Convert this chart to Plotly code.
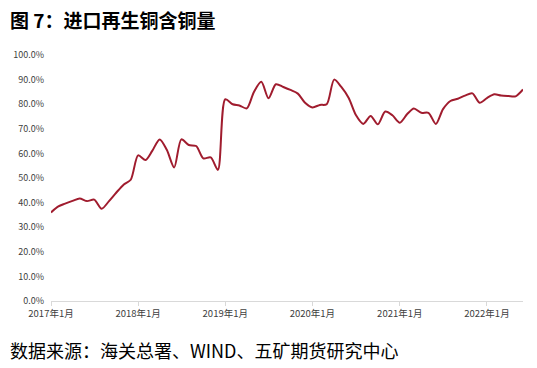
import plotly.graph_objects as go

months = [f"{y}-{m:02d}-01" for y in range(2017, 2023) for m in range(1, 13)][:66]
values = [36.0, 38.5, 39.6, 40.7, 41.7, 40.6, 41.2, 37.5, 40.6, 44.0, 47.3, 49.3,
          59.2, 57.3, 61.0, 65.7, 61.5, 54.3, 65.7, 63.4, 63.0, 58.0, 58.4, 53.3,
          82.0, 80.0, 79.5, 78.3, 85.0, 89.1, 82.4, 88.1, 87.0, 85.8, 84.3, 80.6,
          78.7, 79.7, 80.0, 90.0, 87.0, 82.5, 75.6, 72.0, 75.2, 71.8, 77.0, 75.5,
          72.5, 76.0, 78.3, 76.5, 76.5, 72.0, 78.0, 81.3, 82.2, 83.5, 84.4, 80.6,
          82.5, 84.0, 83.5, 83.3, 83.2, 86.0]
tick_dates = ["2017-01-01", "2018-01-01", "2019-01-01", "2020-01-01", "2021-01-01", "2022-01-01"]
tick_labels = ["2017年1月", "2018年1月", "2019年1月", "2020年1月", "2021年1月", "2022年1月"]
y_ticks = [0, 10, 20, 30, 40, 50, 60, 70, 80, 90, 100]

fig = go.Figure()
fig.add_trace(go.Scatter(x=months, y=values, mode="lines",
                         line=dict(color="#A01C2E", width=2, shape="spline", smoothing=0.8),
                         hoverinfo="skip"))

font_cjk = "Noto Sans CJK SC"
L, R, T, B = 51, 14, 55, 67
H = 368 - T - B
W = 537 - L - R
fig.update_layout(
    width=537, height=368,
    margin=dict(l=L, r=R, t=T, b=B, autoexpand=False),
    paper_bgcolor="white", plot_bgcolor="white",
    showlegend=False,
    font=dict(family=font_cjk, color="#404040", size=9),
    xaxis=dict(range=[months[0], months[-1]], tickvals=tick_dates, ticktext=tick_labels,
               showgrid=False, showline=True, linecolor="#d9d9d9", linewidth=1,
               ticks="outside", tickcolor="#d9d9d9", ticklen=4, automargin=False,
               tickfont=dict(size=9.5, color="#404040"), zeroline=False),
    yaxis=dict(range=[0, 100], tickvals=y_ticks, ticktext=[f"{v:.1f}%" for v in y_ticks],
               showgrid=False, showline=False, zeroline=False, ticks="", automargin=False,
               ticklabelstandoff=6,
               tickfont=dict(size=9, color="#404040")),
    annotations=[
        dict(text="<b>图 7：进口再生铜含铜量</b>", xref="paper", yref="paper",
             x=-(L - 8) / W, y=(368 - B - 20) / H, xanchor="left", yanchor="middle", showarrow=False,
             font=dict(family=font_cjk, size=19, color="#000000")),
        dict(text="数据来源：海关总署、WIND、五矿期货研究中心", xref="paper", yref="paper",
             x=-(L - 8) / W, y=(368 - B - 350) / H, xanchor="left", yanchor="middle", showarrow=False,
             font=dict(family=font_cjk, size=18, color="#000000")),
    ],
)
fig.write_html("out.html", config={"displayModeBar": False},
               post_script="document.body.style.margin='0';document.body.style.overflow='hidden';")
